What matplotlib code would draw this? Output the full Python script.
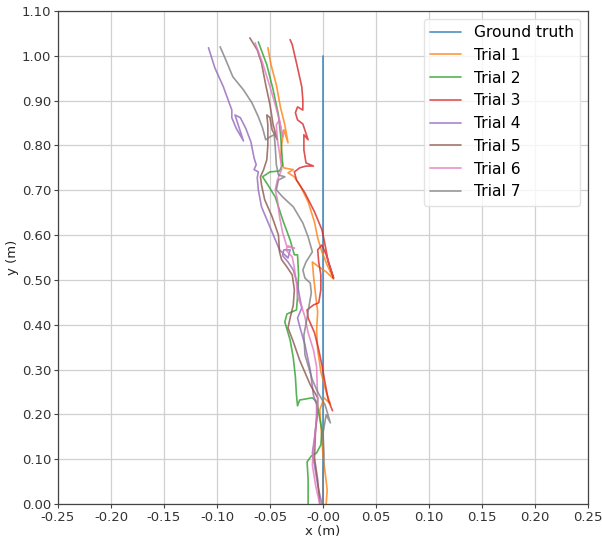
import matplotlib
matplotlib.use("Agg")
import matplotlib.pyplot as plt
import numpy as np

gt_x = [0.0, 0.0]
gt_y = [0.0, 1.0]

t1_x = [0.003, 0.004, 0.002, 0.0, -0.001, -0.002, -0.003, 0.001, 0.007, 0.003, -0.002, -0.005, -0.006, -0.005, -0.007, -0.009, -0.010, -0.005, 0.003, 0.010, 0.004, -0.001, -0.005, -0.008, -0.014, -0.021, -0.027, -0.033, -0.028, -0.037, -0.040, -0.039, -0.037, -0.033, -0.036, -0.040, -0.044, -0.049, -0.052]
t1_y = [0.0, 0.031, 0.071, 0.109, 0.143, 0.176, 0.210, 0.237, 0.223, 0.250, 0.295, 0.344, 0.388, 0.429, 0.467, 0.511, 0.540, 0.531, 0.518, 0.502, 0.533, 0.5625, 0.594, 0.629, 0.674, 0.708, 0.730, 0.739, 0.746, 0.750, 0.772, 0.801, 0.835, 0.806, 0.846, 0.884, 0.935, 0.980, 1.018]

t2_x = [-0.014, -0.014, -0.015, -0.011, -0.006, -0.002, -0.001, -0.004, -0.006, -0.010, -0.022, -0.024, -0.025, -0.026, -0.028, -0.031, -0.036, -0.034, -0.025, -0.024, -0.023, -0.024, -0.027, -0.031, -0.038, -0.045, -0.052, -0.057, -0.050, -0.041, -0.038, -0.039, -0.040, -0.042, -0.047, -0.053, -0.061]
t2_y = [0.0, 0.054, 0.094, 0.107, 0.114, 0.132, 0.165, 0.203, 0.228, 0.237, 0.232, 0.219, 0.243, 0.283, 0.326, 0.366, 0.406, 0.424, 0.433, 0.462, 0.511, 0.556, 0.556, 0.589, 0.634, 0.685, 0.712, 0.730, 0.741, 0.743, 0.757, 0.790, 0.824, 0.868, 0.924, 0.980, 1.031]

t3_x = [0.009, 0.005, 0.002, -0.001, -0.004, -0.008, -0.014, -0.015, -0.009, -0.004, -0.002, -0.002, -0.004, -0.005, -0.001, 0.003, 0.007, 0.010, 0.005, 0.002, -0.001, -0.008, -0.017, -0.025, -0.027, -0.022, -0.016, -0.009, -0.016, -0.018, -0.018, -0.014, -0.019, -0.024, -0.026, -0.024, -0.019, -0.019, -0.020, -0.025, -0.029, -0.031]
t3_y = [0.208, 0.232, 0.270, 0.310, 0.344, 0.382, 0.415, 0.433, 0.444, 0.449, 0.478, 0.511, 0.540, 0.567, 0.578, 0.556, 0.527, 0.504, 0.540, 0.578, 0.612, 0.652, 0.694, 0.723, 0.741, 0.750, 0.754, 0.754, 0.761, 0.790, 0.824, 0.8125, 0.848, 0.857, 0.873, 0.886, 0.879, 0.902, 0.931, 0.984, 1.025, 1.036]

t4_x = [-0.001, -0.005, -0.008, -0.010, -0.008, -0.006, -0.006, -0.009, -0.012, -0.017, -0.021, -0.024, -0.020, -0.022, -0.024, -0.028, -0.033, -0.038, -0.037, -0.031, -0.033, -0.041, -0.050, -0.058, -0.061, -0.062, -0.061, -0.065, -0.063, -0.065, -0.068, -0.073, -0.078, -0.083, -0.080, -0.075, -0.082, -0.086, -0.086, -0.094, -0.102, -0.108]
t4_y = [0.0, 0.042, 0.087, 0.114, 0.147, 0.1875, 0.221, 0.243, 0.299, 0.355, 0.388, 0.415, 0.4375, 0.462, 0.489, 0.522, 0.540, 0.554, 0.567, 0.567, 0.549, 0.567, 0.618, 0.663, 0.701, 0.728, 0.741, 0.746, 0.757, 0.772, 0.808, 0.839, 0.862, 0.868, 0.846, 0.810, 0.839, 0.862, 0.879, 0.931, 0.973, 1.018]

t5_x = [-0.003, -0.005, -0.008, -0.007, -0.005, -0.005, -0.012, -0.022, -0.028, -0.033, -0.031, -0.028, -0.027, -0.029, -0.034, -0.039, -0.041, -0.042, -0.048, -0.055, -0.058, -0.059, -0.056, -0.053, -0.052, -0.052, -0.053, -0.050, -0.048, -0.043, -0.047, -0.050, -0.054, -0.058, -0.062, -0.069]
t5_y = [0.0, 0.054, 0.103, 0.165, 0.210, 0.237, 0.266, 0.321, 0.362, 0.393, 0.415, 0.444, 0.478, 0.511, 0.529, 0.545, 0.5625, 0.600, 0.641, 0.679, 0.712, 0.730, 0.746, 0.768, 0.801, 0.846, 0.868, 0.862, 0.835, 0.8125, 0.846, 0.891, 0.935, 0.984, 1.013, 1.040]

t6_x = [-0.003, -0.007, -0.010, -0.009, -0.007, -0.005, -0.006, -0.009, -0.014, -0.017, -0.020, -0.024, -0.025, -0.027, -0.029, -0.035, -0.033, -0.027, -0.034, -0.038, -0.041, -0.043, -0.045, -0.043, -0.039, -0.040, -0.043, -0.044, -0.041, -0.038, -0.042, -0.045, -0.050, -0.057, -0.064]
t6_y = [0.0, 0.042, 0.087, 0.121, 0.165, 0.232, 0.306, 0.344, 0.382, 0.417, 0.440, 0.462, 0.493, 0.527, 0.551, 0.567, 0.576, 0.571, 0.574, 0.605, 0.641, 0.679, 0.701, 0.723, 0.746, 0.768, 0.8125, 0.846, 0.857, 0.819, 0.864, 0.891, 0.931, 0.984, 1.029]

t7_x = [0.0, 0.0, 0.001, 0.0, 0.003, 0.007, 0.002, -0.005, -0.010, -0.017, -0.018, -0.015, -0.013, -0.011, -0.012, -0.017, -0.019, -0.016, -0.010, -0.014, -0.019, -0.028, -0.038, -0.044, -0.042, -0.036, -0.042, -0.044, -0.045, -0.046, -0.050, -0.054, -0.057, -0.061, -0.067, -0.075, -0.085, -0.091, -0.097]
t7_y = [0.0, 0.054, 0.109, 0.158, 0.199, 0.181, 0.221, 0.250, 0.277, 0.333, 0.377, 0.415, 0.444, 0.471, 0.493, 0.504, 0.522, 0.540, 0.5625, 0.596, 0.627, 0.663, 0.685, 0.701, 0.723, 0.730, 0.734, 0.757, 0.795, 0.824, 0.819, 0.8125, 0.839, 0.864, 0.895, 0.924, 0.953, 0.987, 1.020]

labels = ["Ground truth", "Trial 1", "Trial 2", "Trial 3", "Trial 4", "Trial 5", "Trial 6", "Trial 7"]
xs = [gt_x, t1_x, t2_x, t3_x, t4_x, t5_x, t6_x, t7_x]
ys = [gt_y, t1_y, t2_y, t3_y, t4_y, t5_y, t6_y, t7_y]
colors = ["#1f77b4", "#ff7f0e", "#2ca02c", "#d62728", "#9467bd", "#8c564b", "#e377c2", "#7f7f7f"]

x_ticks = [-0.25, -0.20, -0.15, -0.10, -0.05, 0.0, 0.05, 0.10, 0.15, 0.20, 0.25]
x_ticklabels = ["-0.25", "-0.20", "-0.15", "-0.10", "-0.05", "-0.00", "0.05", "0.10", "0.15", "0.20", "0.25"]
y_ticks = [0.0, 0.1, 0.2, 0.3, 0.4, 0.5, 0.6, 0.7, 0.8, 0.9, 1.0, 1.1]

fig = plt.figure(figsize=(6.02, 5.38), dpi=100)
ax = fig.add_axes([0.0963, 0.0632, 0.8804, 0.9164])
for x, y, lab, c in zip(xs, ys, labels, colors):
    ax.plot(x, y, color=c, lw=1.2, alpha=0.8, label=lab,
            solid_joinstyle="round", solid_capstyle="round")

ax.set_xlim(-0.25, 0.25)
ax.set_ylim(0.0, 1.1)
ax.set_xticks(x_ticks)
ax.set_xticklabels(x_ticklabels)
ax.set_yticks(y_ticks)
ax.set_yticklabels([f"{v:.2f}" for v in y_ticks])
ax.grid(True, color="#d0d0d0", lw=0.9)
ax.set_axisbelow(True)
ax.tick_params(labelsize=9.5, colors="#333333", length=3, width=0.8, pad=2)
ax.tick_params(axis="both", color="#444444")
for s in ax.spines.values():
    s.set_color("#444444")
    s.set_linewidth(0.9)
ax.set_xlabel("x (m)", fontsize=9.5, color="#222222", labelpad=1)
ax.set_ylabel("y (m)", fontsize=9.5, color="#222222", labelpad=2)
leg = ax.legend(loc="upper right", fontsize=11.2, framealpha=0.8, edgecolor="#dddddd",
                borderaxespad=0.5, handlelength=2.0)
fig.savefig("out.png", dpi=100)
